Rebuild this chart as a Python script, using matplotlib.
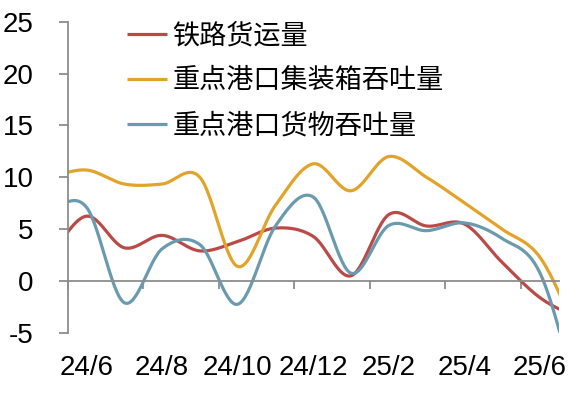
import numpy as np
import matplotlib
matplotlib.use("Agg")
import matplotlib.pyplot as plt

plt.rcParams['font.family'] = ['Liberation Sans', 'Noto Sans CJK SC']
plt.rcParams['axes.unicode_minus'] = False

# monthly points, 24/5 .. 25/7 (the outer two are clipped by the axis)
months = ['24/5', '24/6', '24/7', '24/8', '24/9', '24/10', '24/11', '24/12',
          '25/1', '25/2', '25/3', '25/4', '25/5', '25/6', '25/7']
rail = [2.3, 6.25, 3.2, 4.4, 2.9, 3.8, 5.1, 4.3, 0.5, 6.4, 5.3, 5.5, 1.8, -1.6, -3.6]
container = [10.0, 10.7, 9.35, 9.35, 10.0, 1.4, 7.3, 11.3, 8.7, 12.0, 10.0, 7.55, 5.0, 2.3, -5.0]
cargo = [7.0, 7.1, -2.1, 3.1, 3.5, -2.25, 5.3, 8.1, 0.75, 5.35, 4.85, 5.6, 4.1, 0.8, -11.0]

names = ['铁路货运量', '重点港口集装箱吞吐量', '重点港口货物吞吐量']
colors = ['#BA4A47', '#E2A329', '#6A9AAE']
shown = ['24/6', '24/8', '24/10', '24/12', '25/2', '25/4', '25/6']


def smooth(x, y, n=30):
    # cardinal (catmull-rom) curve, like the smoothed lines in excel
    x = np.asarray(x, float)
    y = np.asarray(y, float)
    m = np.gradient(y, x)
    xs, ys = [], []
    for i in range(len(x) - 1):
        t = np.linspace(0, 1, n, endpoint=False)
        h = x[i + 1] - x[i]
        h00 = 2 * t**3 - 3 * t**2 + 1
        h10 = t**3 - 2 * t**2 + t
        h01 = -2 * t**3 + 3 * t**2
        h11 = t**3 - t**2
        xs.append(x[i] + t * h)
        ys.append(h00 * y[i] + h10 * h * m[i] + h01 * y[i + 1] + h11 * h * m[i + 1])
    xs.append([x[-1]])
    ys.append([y[-1]])
    return np.concatenate(xs), np.concatenate(ys)


pos = np.arange(len(months)) - 1

fig = plt.figure(figsize=(5.77, 4), dpi=100)
ax = fig.add_axes([0.1173, 0.168, 0.851, 0.7775])

for vals, name, c in zip([rail, container, cargo], names, colors):
    sx, sy = smooth(pos, vals)
    ax.plot(sx, sy, color=c, lw=2.3, label=name, solid_capstyle='butt')

ax.set_xlim(-0.5, 12.5)
ax.set_ylim(-5, 25)
ax.set_yticks(range(-5, 26, 5))

grey = '#8C8C8C'
for s in ['top', 'right']:
    ax.spines[s].set_visible(False)
ax.spines['left'].set_color(grey)
ax.spines['left'].set_linewidth(1.3)
ax.spines['bottom'].set_position(('data', 0))
ax.spines['bottom'].set_color(grey)
ax.spines['bottom'].set_linewidth(1.3)

ax.tick_params(axis='y', direction='out', length=6.5, width=1.3, color=grey,
               labelsize=20, pad=18)
ax.set_xticks(np.arange(-0.5, 12, 2))
ax.tick_params(axis='x', direction='out', length=6, width=1.3, color=grey,
               labelbottom=False)

sec = ax.secondary_xaxis('bottom')
sec.set_xticks([months.index(m) - 1 for m in shown], shown)
sec.tick_params(length=0, labelsize=20, pad=16)
sec.spines['bottom'].set_visible(False)

leg = ax.legend(loc='upper left', bbox_to_anchor=(127 / 577, 1 - 23.5 / 400),
                bbox_transform=fig.transFigure, frameon=False, fontsize=19.5,
                handlelength=1.48, handletextpad=0.19, labelspacing=0.7,
                borderpad=0, borderaxespad=0)

fig.savefig('out.png', dpi=100)
